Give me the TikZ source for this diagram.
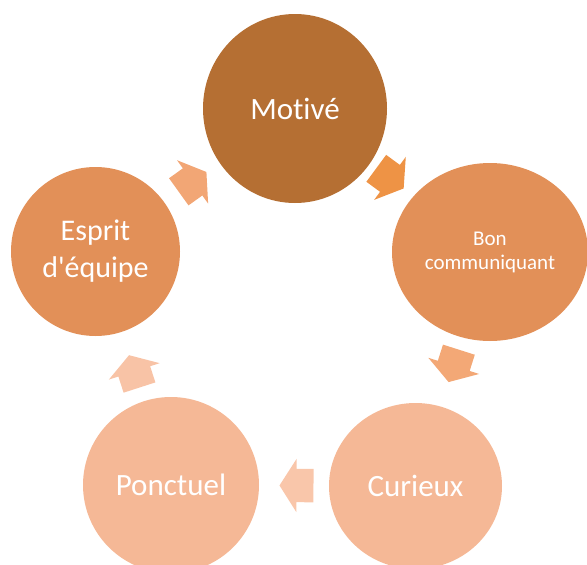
\documentclass[tikz,border=0pt]{standalone}
\usepackage{fontspec}
\setmainfont{Carlito}[Ligatures=NoCommon]
\usetikzlibrary{shapes.geometric,shapes.arrows}
\definecolor{motcol}{HTML}{B56F33}
\definecolor{midcol}{HTML}{E29058}
\definecolor{lightcol}{HTML}{F5B896}
\definecolor{arrowA}{HTML}{EE9345}
\definecolor{arrowB}{HTML}{F3A876}
\definecolor{arrowC}{HTML}{F9C6AA}
\definecolor{arrowD}{HTML}{F8C3A6}
\definecolor{arrowE}{HTML}{F2A675}
\begin{document}
\begin{tikzpicture}[x=1pt,y=-1pt,
  bubblestyle/.style={ellipse,fill=#1,text=white,align=center,inner sep=0pt,font=\fontsize{31}{37}\selectfont},
  arrowstyle/.style={single arrow,fill=#1,minimum height=34pt,inner xsep=0pt,inner ysep=16.5pt,
    single arrow head extend=10pt,single arrow tip angle=115,sloped,allow upside down}]
  \useasboundingbox (0,0) rectangle (587,565);

  \node [bubblestyle=motcol,minimum width=184pt,minimum height=189pt] (mot) at (295,108.5) {Motivé};
  \node [bubblestyle=midcol,minimum width=196pt,minimum height=178pt,font=\fontsize{21}{24}\selectfont] (bon) at (490,252) {Bon\\communiquant};
  \node [bubblestyle=lightcol,minimum width=173pt,minimum height=166pt] (cur) at (415.5,486) {Curieux};
  \node [bubblestyle=lightcol,minimum width=176pt,minimum height=176pt] (pon) at (171,485) {Ponctuel};
  \node [bubblestyle=midcol,minimum width=169pt,minimum height=169pt,font=\fontsize{30}{37}\selectfont] (esp) at (95.5,251.5) {Esprit\\d\textquotesingle équipe};

  \foreach \a/\b/\c in {mot/bon/arrowA,bon/cur/arrowB,cur/pon/arrowC,pon/esp/arrowD,esp/mot/arrowE}
    \path (\a.center) -- node [arrowstyle=\c,pos=0.465] {} (\b.center);
\end{tikzpicture}
\end{document}
